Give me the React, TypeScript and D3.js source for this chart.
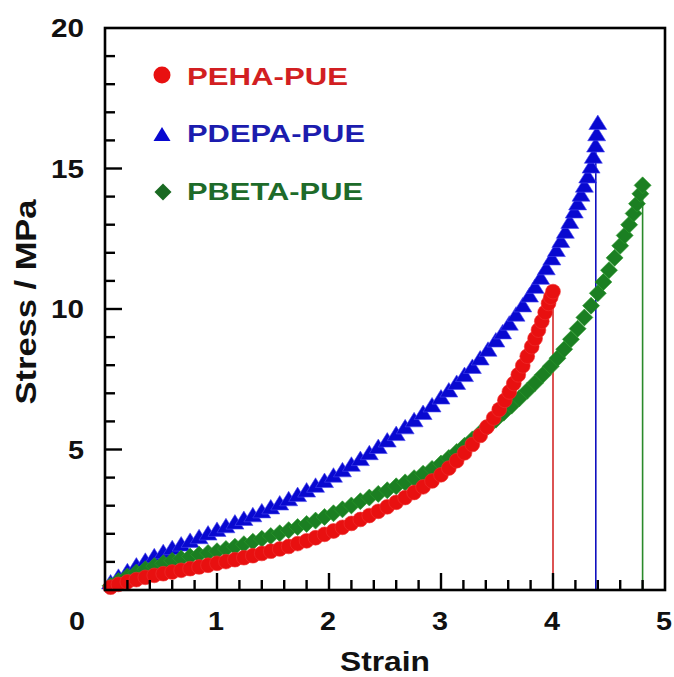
import React from "react";
import * as d3 from "d3";

const W = 674;
const H = 677;

// PEHA-PUE (red circles)
const pehaStrain = [0.05,0.12,0.20,0.28,0.36,0.44,0.52,0.60,0.68,0.76,0.84,0.92,1.00,1.08,1.16,1.24,1.32,1.40,1.48,1.56,1.64,1.72,1.80,1.88,1.96,2.04,2.12,2.20,2.28,2.36,2.44,2.52,2.60,2.68,2.76,2.84,2.92,3.00,3.07,3.14,3.21,3.28,3.35,3.41,3.47,3.52,3.57,3.61,3.65,3.69,3.73,3.77,3.81,3.84,3.87,3.90,3.93,3.96,3.98,4.00];
const pehaStress = [0.10,0.20,0.29,0.37,0.45,0.52,0.58,0.64,0.70,0.76,0.82,0.88,0.95,1.01,1.08,1.15,1.22,1.30,1.38,1.46,1.55,1.65,1.75,1.86,1.98,2.10,2.23,2.37,2.51,2.65,2.80,2.96,3.12,3.29,3.47,3.67,3.88,4.10,4.34,4.60,4.88,5.18,5.50,5.80,6.12,6.42,6.75,7.05,7.35,7.66,7.98,8.32,8.66,8.95,9.25,9.56,9.88,10.20,10.42,10.62];

// PDEPA-PUE (blue triangles)
const pdepaStrain = [0.05,0.12,0.20,0.28,0.36,0.44,0.52,0.60,0.68,0.76,0.84,0.92,1.00,1.08,1.16,1.24,1.32,1.40,1.48,1.56,1.64,1.72,1.80,1.88,1.96,2.04,2.12,2.20,2.28,2.36,2.44,2.52,2.60,2.68,2.76,2.84,2.92,3.00,3.07,3.14,3.21,3.28,3.35,3.42,3.49,3.55,3.61,3.67,3.73,3.79,3.84,3.89,3.94,3.99,4.03,4.07,4.11,4.15,4.19,4.22,4.25,4.28,4.31,4.34,4.36,4.38,4.39,4.40];
const pdepaStress = [0.25,0.45,0.65,0.85,1.02,1.18,1.33,1.47,1.60,1.73,1.86,1.99,2.12,2.25,2.38,2.51,2.64,2.78,2.92,3.06,3.21,3.36,3.52,3.69,3.86,4.05,4.24,4.44,4.64,4.85,5.07,5.30,5.53,5.77,6.02,6.28,6.55,6.83,7.08,7.35,7.63,7.92,8.22,8.53,8.86,9.15,9.46,9.78,10.11,10.46,10.77,11.09,11.43,11.78,12.08,12.40,12.73,13.08,13.45,13.74,14.05,14.37,14.70,15.05,15.40,15.80,16.20,16.60];

// PBETA-PUE (green diamonds)
const pbetaStrain = [0.05,0.12,0.20,0.28,0.36,0.44,0.52,0.60,0.68,0.76,0.84,0.92,1.00,1.08,1.16,1.24,1.32,1.40,1.48,1.56,1.64,1.72,1.80,1.88,1.96,2.04,2.12,2.20,2.28,2.36,2.44,2.52,2.60,2.68,2.76,2.84,2.92,3.00,3.07,3.14,3.21,3.28,3.35,3.42,3.49,3.56,3.63,3.70,3.77,3.84,3.91,3.98,4.04,4.10,4.16,4.22,4.28,4.34,4.40,4.45,4.50,4.55,4.60,4.64,4.68,4.72,4.75,4.78,4.80];
const pbetaStress = [0.15,0.32,0.48,0.62,0.74,0.85,0.95,1.04,1.12,1.19,1.26,1.32,1.38,1.46,1.54,1.63,1.72,1.82,1.92,2.02,2.13,2.24,2.35,2.47,2.60,2.73,2.87,3.01,3.16,3.29,3.42,3.55,3.69,3.83,3.98,4.14,4.31,4.50,4.70,4.91,5.13,5.36,5.59,5.82,6.06,6.31,6.56,6.82,7.09,7.37,7.66,7.96,8.25,8.57,8.92,9.30,9.70,10.12,10.56,10.96,11.38,11.82,12.25,12.62,13.00,13.40,13.75,14.10,14.40];

const seriesNames = ["PEHA-PUE", "PDEPA-PUE", "PBETA-PUE"];
const xTickLabels = [1, 2, 3, 4, 5];
const yTickLabels = [5, 10, 15, 20];

const RED = "#e81010";
const BLUE = "#0808d0";
const GREEN = "#1b7f22";

const FONT = "'Liberation Sans', Arial, Helvetica, sans-serif";

const x = d3.scaleLinear().domain([0, 5]).range([105, 665]);
const y = d3.scaleLinear().domain([0, 20]).range([590, 28]);

const triPath = "M0,-8.5L9,6L-9,6Z";
const diaPath = "M0,-8.5L8.5,0L0,8.5L-8.5,0Z";

function zip(a: number[], b: number[]) {
  return a.map((v, i) => [v, b[i]] as [number, number]);
}

export default function App() {
  const red = zip(pehaStrain, pehaStress);
  const blue = zip(pdepaStrain, pdepaStress);
  const green = zip(pbetaStrain, pbetaStress);

  const xMinor = d3.range(0, 5.001, 0.2).filter((v) => Math.abs(v - Math.round(v)) > 1e-6);
  const xMajor = [1, 2, 3, 4];
  const yMinor = d3.range(1, 20, 1).filter((v) => v % 5 !== 0);
  const yMajor = [5, 10, 15];

  const lastRed = red[red.length - 1];
  const lastBlue = blue[blue.length - 1];
  const lastGreen = green[green.length - 1];

  return (
    <svg
      width={W}
      height={H}
      style={{ position: "absolute", left: 0, top: 0, background: "#fff" }}
      fontFamily={FONT}
    >
      <rect x={0} y={0} width={W} height={H} fill="#fff" />

      {/* drop lines */}
      <line x1={x(lastRed[0])} x2={x(lastRed[0])} y1={y(lastRed[1])} y2={y(0)} stroke="#d42828" strokeWidth={1.6} />
      <line x1={x(lastBlue[0]) - 2} x2={x(lastBlue[0]) - 2} y1={y(lastBlue[1])} y2={y(0)} stroke="#1010c0" strokeWidth={1.6} />
      <line x1={x(lastGreen[0])} x2={x(lastGreen[0])} y1={y(lastGreen[1])} y2={y(0)} stroke="#2a8a2a" strokeWidth={1.6} />

      {/* blue triangles */}
      <g fill={BLUE} stroke="#4a4af0" strokeWidth={0.6}>
        {blue.map((d, i) => (
          <path key={i} d={triPath} transform={`translate(${x(d[0])},${y(d[1])})`} />
        ))}
      </g>
      {/* green diamonds */}
      <g fill={GREEN} stroke="#2a9a2a" strokeWidth={0.6}>
        {green.map((d, i) => (
          <path key={i} d={diaPath} transform={`translate(${x(d[0])},${y(d[1])})`} />
        ))}
      </g>
      {/* red circles */}
      <g fill={RED} stroke="#f03030" strokeWidth={0.6}>
        {red.map((d, i) => (
          <circle key={i} cx={x(d[0])} cy={y(d[1])} r={7.4} />
        ))}
      </g>

      {/* frame */}
      <rect x={105} y={28} width={560} height={562} fill="none" stroke="#000" strokeWidth={2.6} />

      {/* ticks */}
      <g stroke="#000" strokeWidth={2.4}>
        {xMinor.map((v) => (
          <line key={"xm" + v} x1={x(v)} x2={x(v)} y1={y(0)} y2={y(0) - 10} />
        ))}
        {xMajor.map((v) => (
          <line key={"xM" + v} x1={x(v)} x2={x(v)} y1={y(0)} y2={y(0) - 17} />
        ))}
        {yMinor.map((v) => (
          <line key={"ym" + v} x1={x(0)} x2={x(0) + 10} y1={y(v)} y2={y(v)} />
        ))}
        {yMajor.map((v) => (
          <line key={"yM" + v} x1={x(0)} x2={x(0) + 17} y1={y(v)} y2={y(v)} />
        ))}
      </g>

      {/* tick labels */}
      <g fontSize={25} fontWeight="bold" fill="#111">
        <text x={77} y={630} textAnchor="middle" textLength={16} lengthAdjust="spacingAndGlyphs">0</text>
        {xTickLabels.map((v) => (
          <text key={"xl" + v} x={x(v) - 1} y={630} textAnchor="middle" textLength={16} lengthAdjust="spacingAndGlyphs">
            {v}
          </text>
        ))}
        {yTickLabels.map((v) => (
          <text key={"yl" + v} x={84} y={y(v) + 9} textAnchor="end" textLength={v >= 10 ? 33 : 16} lengthAdjust="spacingAndGlyphs">
            {v}
          </text>
        ))}
      </g>

      {/* axis titles */}
      <text x={385} y={671} textAnchor="middle" fontSize={28} fontWeight="bold" fill="#111" textLength={90} lengthAdjust="spacingAndGlyphs">
        Strain
      </text>
      <text
        transform={`translate(36,302) rotate(-90)`}
        textAnchor="middle"
        fontSize={29}
        fontWeight="bold"
        fill="#111"
        textLength={205}
        lengthAdjust="spacingAndGlyphs"
      >
        Stress / MPa
      </text>

      {/* legend */}
      <circle cx={162} cy={75} r={8.5} fill={RED} />
      <text x={187} y={85} fontSize={23.5} fontWeight="bold" fill="#d21f22" textLength={161} lengthAdjust="spacingAndGlyphs">
        {seriesNames[0]}
      </text>
      <path d="M0,-8L8.5,6L-8.5,6Z" transform="translate(162,135)" fill={BLUE} />
      <text x={187} y={142} fontSize={23.5} fontWeight="bold" fill="#1c1cae" textLength={178} lengthAdjust="spacingAndGlyphs">
        {seriesNames[1]}
      </text>
      <path d="M0,-8.5L8.5,0L0,8.5L-8.5,0Z" transform="translate(163,192)" fill="#1a6a22" />
      <text x={187} y={200} fontSize={23.5} fontWeight="bold" fill="#1d6b2a" textLength={176} lengthAdjust="spacingAndGlyphs">
        {seriesNames[2]}
      </text>
    </svg>
  );
}
